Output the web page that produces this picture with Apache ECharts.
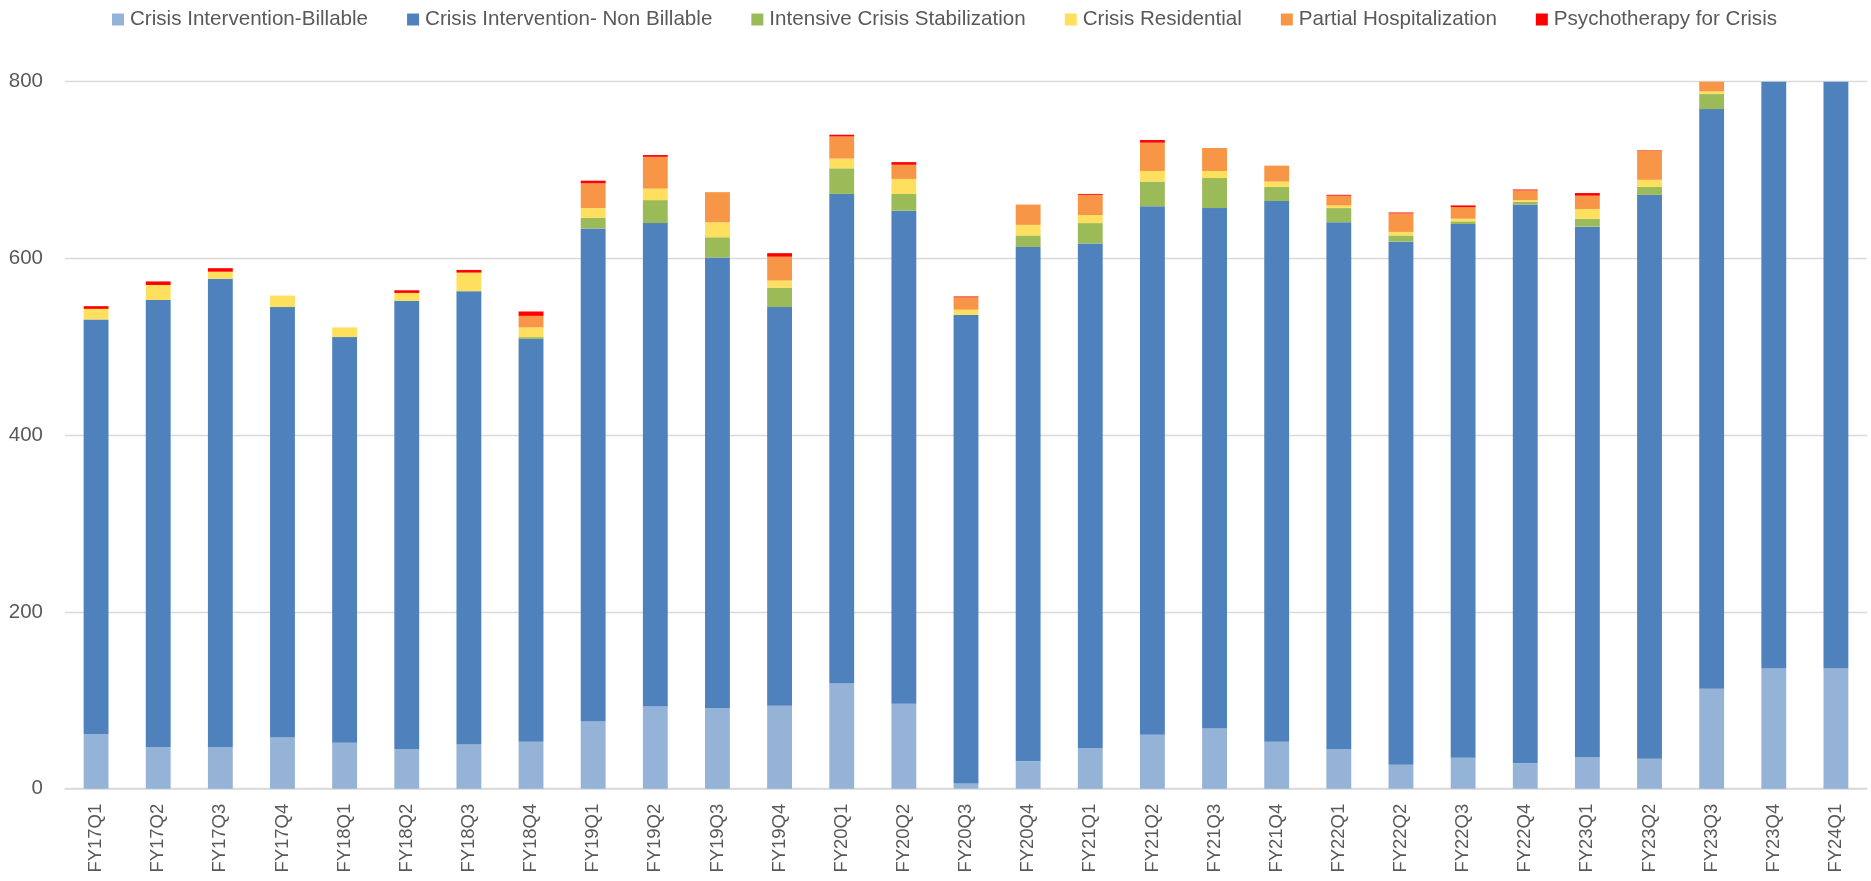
<!DOCTYPE html>
<html>
<head>
<meta charset="utf-8">
<title>Crisis Services by Quarter</title>
<script src="https://cdn.jsdelivr.net/npm/echarts@6/dist/echarts.min.js"></script>
<style>
  html, body { margin: 0; padding: 0; background: #ffffff; }
  #chart { width: 1871px; height: 881px; }
</style>
</head>
<body>
<div id="chart"></div>
<script>
// Fiscal quarters on the category axis
const quarters = [
  'FY17Q1','FY17Q2','FY17Q3','FY17Q4',
  'FY18Q1','FY18Q2','FY18Q3','FY18Q4',
  'FY19Q1','FY19Q2','FY19Q3','FY19Q4',
  'FY20Q1','FY20Q2','FY20Q3','FY20Q4',
  'FY21Q1','FY21Q2','FY21Q3','FY21Q4',
  'FY22Q1','FY22Q2','FY22Q3','FY22Q4',
  'FY23Q1','FY23Q2','FY23Q3','FY23Q4',
  'FY24Q1'
];

// Service counts per quarter, one array per stacked segment
const crisisBillable = [62, 47, 47, 58, 52, 45, 50, 53, 76, 93, 91, 94, 119, 96, 6, 31, 46, 61, 68, 53, 45, 27, 35, 29, 36, 34, 113, 136, 136];
const crisisNonBillable = [469, 506, 530, 487, 459, 507, 513, 456, 558, 547, 510, 451, 554, 558, 530, 582, 571, 598, 589, 612, 596, 592, 604, 632, 600, 638, 656, 684, 692];
const intensiveStabilization = [0, 0, 0, 0, 0, 0, 0, 2, 12, 26, 23, 22, 29, 19, 0, 13, 23, 28, 34, 16, 16, 7, 3, 3, 9, 9, 17, 0, 0];
const crisisResidential = [12, 17, 8, 13, 11, 9, 21, 11, 11, 13, 17, 8, 11, 17, 6, 12, 9, 12, 8, 6, 3, 4, 3, 2, 11, 8, 3, 0, 0];
const partialHospitalization = [0, 0, 0, 0, 0, 0, 0, 13, 28, 36, 34, 27, 25, 16, 14, 23, 23, 32, 26, 18, 11, 21, 13, 11, 15, 33, 20, 0, 0];
const psychotherapyCrisis = [3, 4, 4, 0, 0, 3, 3, 5, 3, 2, 0, 4, 2, 3, 1, 0, 1, 3, 0, 0, 1, 1, 2, 1, 3, 0.5, 0, 0, 0];

// Y axis scale
const yMin = 0;
const yMax = 800;
const yStep = 200;

const seriesDefs = [
  { name: 'Crisis Intervention-Billable', data: crisisBillable, color: '#95b3d7' },
  { name: 'Crisis Intervention- Non Billable', data: crisisNonBillable, color: '#4f81bd' },
  { name: 'Intensive Crisis Stabilization', data: intensiveStabilization, color: '#9bbb59' },
  { name: 'Crisis Residential', data: crisisResidential, color: '#ffdf5e' },
  { name: 'Partial Hospitalization', data: partialHospitalization, color: '#f79646' },
  { name: 'Psychotherapy for Crisis', data: psychotherapyCrisis, color: '#ff0000' }
];

const textColor = '#595959';
const fontFamily = '"Liberation Sans", Arial, sans-serif';

const chart = echarts.init(document.getElementById('chart'), null, { renderer: 'canvas' });

chart.setOption({
  animation: false,
  backgroundColor: '#ffffff',
  textStyle: { fontFamily: fontFamily },
  legend: {
    top: 4,
    left: 107,
    itemWidth: 12,
    itemHeight: 12,
    itemGap: 39,
    icon: 'rect',
    textStyle: { color: textColor, fontSize: 20.6, fontFamily: fontFamily, padding: [0, 0, 0, 1] },
    data: seriesDefs.map(s => s.name)
  },
  grid: {
    left: 65,
    right: 4,
    top: 81.7,
    bottom: 92.3,
    containLabel: false
  },
  xAxis: {
    type: 'category',
    data: quarters,
    axisLine: { show: true, lineStyle: { color: '#d9d9d9', width: 1.5 } },
    axisTick: { show: false },
    axisLabel: {
      rotate: 90,
      interval: 0,
      margin: 15,
      color: textColor,
      fontSize: 18.5,
      fontFamily: fontFamily
    }
  },
  yAxis: {
    type: 'value',
    min: yMin,
    max: yMax,
    interval: yStep,
    axisLine: { show: false },
    axisTick: { show: false },
    splitLine: { lineStyle: { color: '#d9d9d9', width: 1.3 } },
    axisLabel: {
      margin: 22,
      color: textColor,
      fontSize: 20.5,
      fontFamily: fontFamily
    }
  },
  series: seriesDefs.map(s => ({
    name: s.name,
    type: 'bar',
    stack: 'total',
    barWidth: '40%',
    clip: true,
    data: s.data,
    itemStyle: { color: s.color },
    emphasis: { disabled: true }
  }))
});
</script>
</body>
</html>
